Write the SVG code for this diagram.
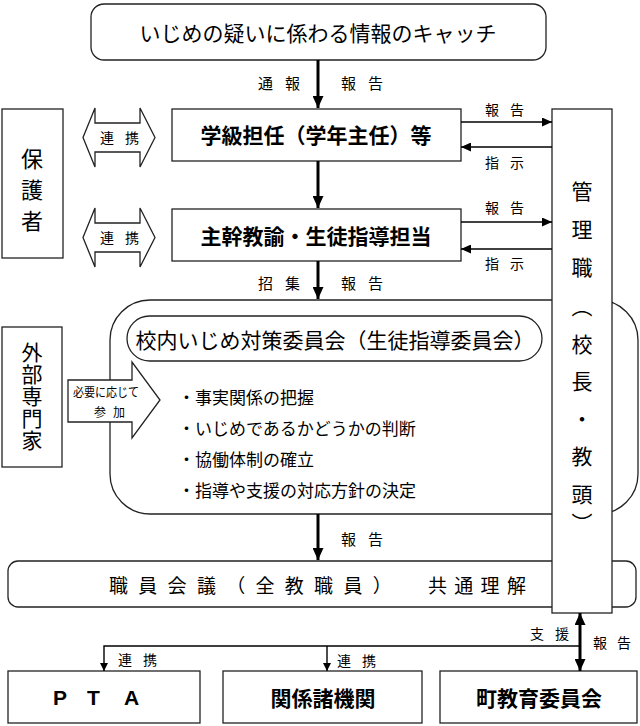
<svg xmlns="http://www.w3.org/2000/svg" width="640" height="726" viewBox="0 0 640 726">
<defs>
<style>
.box{fill:#fff;stroke:#222;stroke-width:1.3}
.t{font-family:"Noto Sans CJK JP","Noto Sans",sans-serif;fill:#000;dominant-baseline:central}
.c{text-anchor:middle}
.b{font-weight:bold}
.lbl{font-size:14px;letter-spacing:11px}
.lbl15{font-size:15px;letter-spacing:12px}
.big{font-size:21px}
.thick{stroke:#000;stroke-width:3;fill:none}
.thin{stroke:#000;stroke-width:1.4;fill:none}
</style>
<marker id="ah" markerUnits="userSpaceOnUse" markerWidth="12" markerHeight="11" refX="12" refY="5.5" orient="auto-start-reverse"><path d="M0,0 L12,5.5 L0,11 z" fill="#000"/></marker>
<marker id="as" markerUnits="userSpaceOnUse" markerWidth="10" markerHeight="9" refX="10" refY="4.5" orient="auto"><path d="M0,0 L10,4.5 L0,9 z" fill="#000"/></marker>
<marker id="ad" markerUnits="userSpaceOnUse" markerWidth="8" markerHeight="8" refX="8" refY="4" orient="auto"><path d="M0,0 L8,4 L0,8 z" fill="#000"/></marker>
</defs>
<rect width="640" height="726" fill="#fff"/>

<g id="catch">
<rect class="box" x="91" y="4" width="455" height="56" rx="13"/>
<text class="t c big" x="318" y="32">いじめの疑いに係わる情報のキャッチ</text>
</g>

<g id="hogosha">
<rect class="box" x="2" y="109" width="61" height="149"/>
<text class="t c" style="font-size:22px" x="32" y="157">保</text>
<text class="t c" style="font-size:22px" x="32" y="188">護</text>
<text class="t c" style="font-size:22px" x="32" y="219">者</text>
</g>

<g id="renkei1">
<polygon class="box" points="83,137.5 95,108 95,123 140,123 140,108 155,137.5 140,167 140,152 95,152 95,167"/>
<text class="t lbl" x="100" y="137">連携</text>
</g>
<g id="renkei2">
<polygon class="box" points="83,237.5 95,208 95,223 140,223 140,208 155,237.5 140,267 140,252 95,252 95,267"/>
<text class="t lbl" x="100" y="237">連携</text>
</g>

<g id="tannin">
<rect class="box" x="172" y="109" width="289" height="52"/>
<text class="t c big b" x="316" y="134">学級担任（学年主任）等</text>
</g>
<g id="shukan">
<rect class="box" x="172" y="209" width="289" height="52"/>
<text class="t c big b" x="316" y="235">主幹教諭・生徒指導担当</text>
</g>

<g id="iinkai">
<rect class="box" x="110" y="300" width="528" height="214" rx="40"/>
<rect class="box" x="127" y="316" width="415" height="45" rx="22.5"/>
<text class="t c big" x="335" y="339">校内いじめ対策委員会（生徒指導委員会）</text>
<text class="t" style="font-size:17px" x="178" y="396">・事実関係の把握</text>
<text class="t" style="font-size:17px" x="178" y="427">・いじめであるかどうかの判断</text>
<text class="t" style="font-size:17px" x="178" y="458">・協働体制の確立</text>
<text class="t" style="font-size:17px" x="178" y="489">・指導や支援の対応方針の決定</text>
</g>

<g id="gaibu">
<rect class="box" x="2" y="327" width="60" height="140"/>
<text class="t c" style="font-size:21px;writing-mode:vertical-rl;letter-spacing:1px" x="32" y="397">外部専門家</text>
</g>

<g id="sanka">
<polygon class="box" points="68,380 132,380 132,362 160,400 132,438 132,422 68,422"/>
<text class="t" style="font-size:12.5px" x="73" y="391" textLength="66" lengthAdjust="spacingAndGlyphs">必要に応じて</text>
<text class="t" style="font-size:12px;letter-spacing:7px" x="94" y="411">参加</text>
</g>

<g id="shokuin">
<rect class="box" x="8" y="561" width="628" height="46" rx="10"/>
<text class="t" style="font-size:19px;letter-spacing:10.3px" x="109" y="584">職員会議（全教職員）</text>
<text class="t" style="font-size:19px;letter-spacing:7.3px" x="428" y="584">共通理解</text>
</g>

<g id="kanri">
<rect class="box" x="552" y="109" width="60" height="504"/>
<text class="t c big" x="582" y="190">管</text>
<text class="t c big" x="582" y="228">理</text>
<text class="t c big" x="582" y="266">職</text>
<text class="t c big" x="582" y="305">︵</text>
<text class="t c big" x="582" y="343">校</text>
<text class="t c big" x="582" y="380">長</text>
<text class="t c big" x="582" y="418">・</text>
<text class="t c big" x="582" y="455">教</text>
<text class="t c big" x="582" y="493">頭</text>
<text class="t c big" x="582" y="522">︶</text>
</g>

<g id="pta">
<rect class="box" x="8" y="671" width="192" height="52"/>
<text class="t b" style="font-family:'Liberation Sans',sans-serif;font-size:21px" x="53 87 124" y="697">PTA</text>
</g>
<g id="kankei">
<rect class="box" x="223" y="671" width="199" height="52"/>
<text class="t c big b" x="323" y="697">関係諸機関</text>
</g>
<g id="machi">
<rect class="box" x="440" y="671" width="197" height="52"/>
<text class="t c big b" x="539" y="697">町教育委員会</text>
</g>

<g id="connectors">
<line class="thick" x1="318" y1="60" x2="318" y2="108" marker-end="url(#ah)"/>
<line class="thick" x1="318" y1="161" x2="318" y2="208" marker-end="url(#ah)"/>
<line class="thick" x1="318" y1="261" x2="318" y2="299" marker-end="url(#ah)"/>
<line class="thick" x1="318" y1="514" x2="318" y2="560" marker-end="url(#ah)"/>
<line class="thin" x1="461" y1="122" x2="552" y2="122" marker-end="url(#as)"/>
<line class="thin" x1="552" y1="147" x2="461" y2="147" marker-end="url(#as)"/>
<line class="thin" x1="461" y1="222" x2="552" y2="222" marker-end="url(#as)"/>
<line class="thin" x1="552" y1="249" x2="461" y2="249" marker-end="url(#as)"/>
<path class="thin" d="M580,646 H104 V671" marker-end="url(#ad)"/>
<path class="thin" d="M327,646 V671" marker-end="url(#ad)"/>
<line class="thick" x1="580" y1="613" x2="580" y2="671" marker-start="url(#ah)" marker-end="url(#ah)"/>
<text class="t lbl15" x="258" y="82">通報</text>
<text class="t lbl15" x="341" y="82">報告</text>
<text class="t lbl15" x="258" y="282">招集</text>
<text class="t lbl15" x="341" y="282">報告</text>
<text class="t lbl15" x="341" y="538">報告</text>
<text class="t lbl" x="485" y="109">報告</text>
<text class="t lbl" x="485" y="162">指示</text>
<text class="t lbl" x="485" y="207">報告</text>
<text class="t lbl" x="485" y="263">指示</text>
<text class="t lbl" x="530" y="633">支援</text>
<text class="t" style="font-size:14px;letter-spacing:10px" x="593" y="642">報告</text>
<text class="t lbl" x="118" y="659">連携</text>
<text class="t lbl" x="337" y="660">連携</text>
</g>
</svg>
